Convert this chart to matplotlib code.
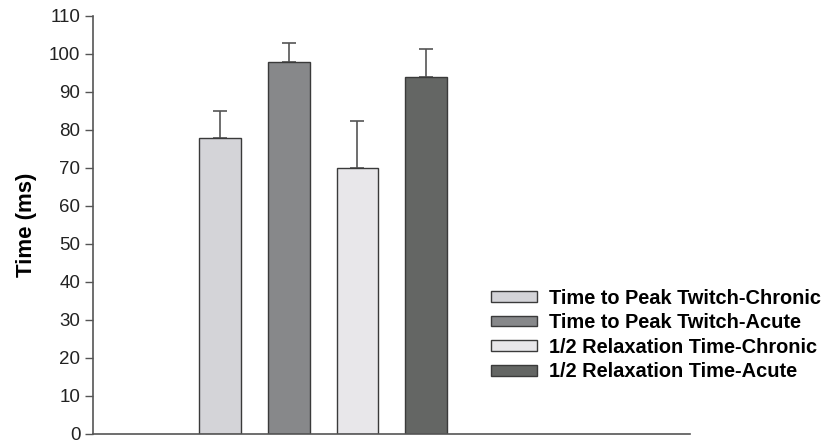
import matplotlib.pyplot as plt
import numpy as np

plt.rcParams["font.family"] = ["Liberation Sans", "DejaVu Sans"]

# mean twitch times and their SE bars (ms)
labels = [
    "Time to Peak Twitch-Chronic",
    "Time to Peak Twitch-Acute",
    "1/2 Relaxation Time-Chronic",
    "1/2 Relaxation Time-Acute",
]
means = [78, 98, 70, 94]
errors = [7, 5, 12.3, 7.2]
colors = ["#d4d4d8", "#87888a", "#e8e7ea", "#646664"]

fig = plt.figure(figsize=(8.25, 4.43), dpi=100)
ax = fig.add_axes([93 / 825, 9 / 443, 597 / 825, 418 / 443])

x = np.arange(len(means))
for xi, m, e, c, lab in zip(x, means, errors, colors, labels):
    ax.bar(xi, m, width=0.61, color=c, edgecolor="#3a3a3a", linewidth=1.0,
           label=lab, zorder=2)
    ax.errorbar(xi, m, yerr=[[0], [e]], fmt="none", ecolor="#555555",
                elinewidth=1.2, capsize=4.7, capthick=1.2, zorder=1)

ax.set_xlim(-1.85, 6.84)
ax.set_ylim(0, 110)
ax.set_yticks(np.arange(0, 111, 10))
ax.set_xticks([])
for s in ["top", "right"]:
    ax.spines[s].set_visible(False)
for s in ["left", "bottom"]:
    ax.spines[s].set_color("#555555")
    ax.spines[s].set_linewidth(1.2)
ax.tick_params(axis="y", direction="out", length=6, width=1.0,
               color="#555555", labelsize=13.5, labelcolor="#222222", pad=3)
ax.set_ylabel("Time (ms)", fontsize=16, fontweight="bold", labelpad=9)

leg = ax.legend(loc="upper left", bbox_to_anchor=(0.653, 0.367), frameon=False,
                prop={"size": 14.4, "weight": "bold"}, handlelength=2.3,
                handleheight=0.45, handletextpad=0.6, labelspacing=0.28,
                borderaxespad=0)

fig.savefig("out.png", dpi=100)
